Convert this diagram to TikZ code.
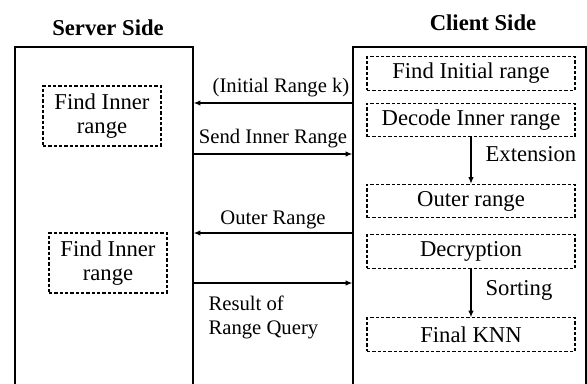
\documentclass[tikz,border=0pt]{standalone}
\usepackage{fontspec}
\setmainfont{Liberation Serif}
\usetikzlibrary{arrows.meta, positioning, calc, fit}

\begin{document}
\begin{tikzpicture}[x=0.75pt, y=-0.75pt,
    sidebox/.style={draw, line width=1pt, inner sep=0pt},
    stepbox/.style={draw, dashed, dash pattern=on 2.5pt off 1.5pt, line width=0.8pt,
      minimum height=25pt, minimum width=156pt, inner sep=2pt,
      font=\fontsize{17}{19}\selectfont},
    srvbox/.style={stepbox, minimum width=88.5pt, minimum height=45pt, align=center,
      font=\fontsize{17}{18}\selectfont},
    title/.style={font=\fontsize{17}{19}\selectfont\bfseries},
    lbl/.style={font=\fontsize{15.5}{18}\selectfont, inner sep=1pt},
    msg/.style={line width=0.8pt, -{Latex[length=5pt, width=4pt]}}]
  \useasboundingbox (0,0) rectangle (587,383);

  % Titles
  \node[title] (srvtitle) at (108,28) {Server Side};
  \node[title] (clttitle) at (483,23) {Client Side};

  % Side frames (open at the bottom)
  \coordinate (sTL) at (15,47);
  \coordinate (sBR) at (193,400);
  \coordinate (cTL) at (353,47);
  \coordinate (cBR) at (586,400);
  \node[sidebox, fit=(sTL)(sBR)] (server) {};
  \node[sidebox, fit=(cTL)(cBR)] (client) {};

  % Server steps
  \node[srvbox] (inner1) at (102,116) {Find Inner\\range};
  \node[srvbox] (inner2) at (108,263) {Find Inner\\range};

  % Client steps
  \node[stepbox] (init) at (471,73.5) {Find Initial range};
  \node[stepbox] (decode) at (471,120) {Decode Inner range};
  \node[stepbox] (outer) at (471,201) {Outer range};
  \node[stepbox] (decrypt) at (471,251.5) {Decryption};
  \node[stepbox] (knn) at (471,334.5) {Final KNN};

  \draw[msg] (decode) -- (outer);
  \node[lbl, font=\fontsize{17}{19}\selectfont, anchor=west] (ext) at (484,154) {Extension};
  \draw[msg] (decrypt) -- (knn);
  \node[lbl, font=\fontsize{17}{19}\selectfont, anchor=west] (sort) at (484,290) {Sorting};

  % Messages between the sides
  \draw[msg] (client.west |- 0,103) -- node[lbl, above=3pt, xshift=6pt] (m1) {(Initial Range k)} (server.east |- 0,103);
  \draw[msg] (server.east |- 0,154) -- node[lbl, above=3pt] (m2) {Send Inner Range} (client.west |- 0,154);
  \draw[msg] (client.west |- 0,233) -- node[lbl, above=2pt] (m3) {Outer Range} (server.east |- 0,233);
  \draw[msg] (server.east |- 0,283) -- (client.west |- 0,283);
  \node[lbl, align=left, anchor=west] (m4) at (207,317) {Result of\\Range Query};
\end{tikzpicture}
\end{document}
